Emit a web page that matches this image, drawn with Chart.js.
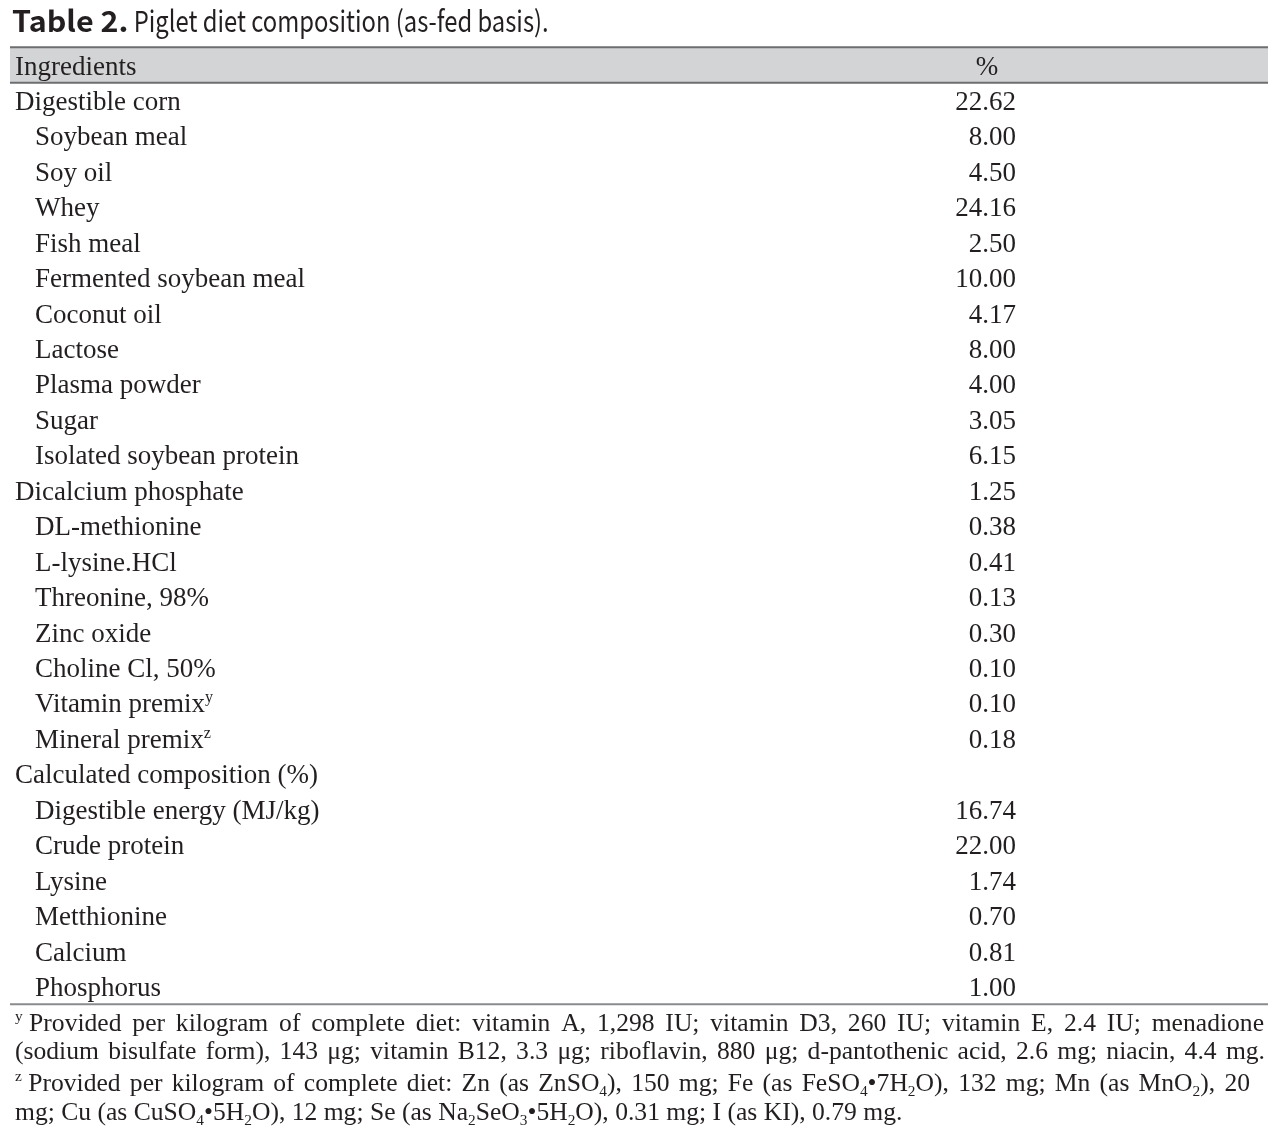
<!DOCTYPE html>
<html><head><meta charset="utf-8">
<script src="https://cdn.jsdelivr.net/npm/chart.js@4.4.1/dist/chart.umd.min.js"></script>
<style>html,body{margin:0;padding:0;background:#fff;overflow:hidden}#wrap{width:1288px;height:1134px;position:relative}</style>
</head><body><div id="wrap"><canvas id="c" width="1288" height="1134"></canvas></div>
<script>
// ---- data ----
const titleBold = "Table 2.";
const titleText = " Piglet diet composition (as-fed basis).";
const headerLabels = ["Ingredients", "%"];
const rowLabels = [
  "Digestible corn", "Soybean meal", "Soy oil", "Whey", "Fish meal",
  "Fermented soybean meal", "Coconut oil", "Lactose", "Plasma powder", "Sugar",
  "Isolated soybean protein", "Dicalcium phosphate", "DL-methionine", "L-lysine.HCl",
  "Threonine, 98%", "Zinc oxide", "Choline Cl, 50%", "Vitamin premix^y", "Mineral premix^z",
  "Calculated composition (%)", "Digestible energy (MJ/kg)", "Crude protein", "Lysine",
  "Metthionine", "Calcium", "Phosphorus"
];
const rowValues = [
  22.62, 8.00, 4.50, 24.16, 2.50, 10.00, 4.17, 8.00, 4.00, 3.05, 6.15, 1.25, 0.38, 0.41,
  0.13, 0.30, 0.10, 0.10, 0.18, null, 16.74, 22.00, 1.74, 0.70, 0.81, 1.00
];
const topLevelRows = ["Digestible corn", "Dicalcium phosphate", "Calculated composition (%)"];
const footnoteLines = [
  "^y\u00a0Provided per kilogram of complete diet: vitamin A, 1,298 IU; vitamin D3, 260 IU; vitamin E, 2.4 IU; menadione",
  "(sodium bisulfate form), 143 \u03bcg; vitamin B12, 3.3 \u03bcg; riboflavin, 880 \u03bcg; d-pantothenic acid, 2.6 mg; niacin, 4.4 mg.",
  "^z\u00a0Provided per kilogram of complete diet: Zn (as ZnSO_4), 150 mg; Fe (as FeSO_4\u20227H_2O), 132 mg; Mn (as MnO_2), 20",
  "mg; Cu (as CuSO_4\u20225H_2O), 12 mg; Se (as Na_2SeO_3\u20225H_2O), 0.31 mg; I (as KI), 0.79 mg."
];

// ---- rendering ----
const TXT = '#231f20';
const SERIF = "'Liberation Serif', 'Times New Roman', serif";
const SANS = "'Noto Sans CJK KR', 'Noto Sans', sans-serif";

function parseRuns(s){
  const runs=[]; const re=/\^(\w)|_(\d)/g; let last=0, m;
  while((m=re.exec(s))){
    if(m.index>last) runs.push({t:s.slice(last,m.index),k:0});
    runs.push({t:m[1]||m[2],k:m[1]?1:-1});
    last=re.lastIndex;
  }
  if(last<s.length) runs.push({t:s.slice(last),k:0});
  return runs;
}
function runFont(k,size){ return (k?size*0.6:size)+'px '+SERIF; }
function measureRuns(ctx,runs,size){
  let w=0; for(const r of runs){ ctx.font=runFont(r.k,size); w+=ctx.measureText(r.t).width; } return w;
}
function drawRuns(ctx,runs,x,base,size){
  for(const r of runs){
    ctx.font=runFont(r.k,size);
    const dy = r.k===1 ? -size*0.38 : (r.k===-1 ? size*0.18 : 0);
    ctx.fillText(r.t,x,base+dy);
    x+=ctx.measureText(r.t).width;
  }
  return x;
}
function drawJustified(ctx,line,x,base,size,target){
  const words=line.split(' ').map(parseRuns);
  const ws=words.map(w=>measureRuns(ctx,w,size));
  const total=ws.reduce((a,b)=>a+b,0);
  ctx.font=runFont(0,size);
  const gap = target ? (target-x-total)/(words.length-1) : ctx.measureText(' ').width;
  let cx=x;
  words.forEach((w,i)=>{ drawRuns(ctx,w,cx,base,size); cx+=ws[i]+gap; });
}
function drawScaledText(ctx,text,x,base,sx){
  ctx.save(); ctx.translate(x,base); ctx.scale(sx,1); ctx.fillText(text,0,0); ctx.restore();
  return ctx.measureText(text).width*sx;
}

const tablePlugin = {
  id:'tablePlugin',
  afterDraw(chart){
    const ctx=chart.ctx, y=chart.scales.y, a=chart.chartArea;
    ctx.save();
    const b0=y.getPixelForValue(-0.5), b1=y.getPixelForValue(0.5);
    ctx.fillStyle='#d3d4d6';
    ctx.fillRect(a.left,b0,a.right-a.left,b1-b0);
    ctx.lineWidth=2;
    ctx.strokeStyle='#6d6e70';
    ctx.beginPath(); ctx.moveTo(a.left,b0); ctx.lineTo(a.right,b0); ctx.stroke();
    ctx.beginPath(); ctx.moveTo(a.left,b1); ctx.lineTo(a.right,b1); ctx.stroke();
    ctx.strokeStyle='#8a8b8d';
    ctx.beginPath(); ctx.moveTo(a.left,a.bottom); ctx.lineTo(a.right,a.bottom); ctx.stroke();

    ctx.fillStyle=TXT; ctx.textBaseline='alphabetic';
    const size=27, off=9.5;
    // title
    ctx.textAlign='left';
    ctx.font='bold 29px '+SANS;
    const tw=drawScaledText(ctx,titleBold,12,32,1.05);
    ctx.font='29px '+SANS;
    drawScaledText(ctx,titleText,12+tw,32,0.82);
    // header
    const hy=y.getPixelForValue(0)+off;
    ctx.font=size+'px '+SERIF;
    ctx.fillText(headerLabels[0],15,hy);
    ctx.textAlign='center';
    ctx.fillText(headerLabels[1],987,hy);
    // rows
    rowLabels.forEach((lab,i)=>{
      const yc=y.getPixelForValue(i+1)+off;
      const plain=lab.replace(/\^\w/g,'');
      const x = topLevelRows.includes(plain) ? 15 : 35;
      ctx.textAlign='left';
      drawRuns(ctx,parseRuns(lab),x,yc,size);
      const v=rowValues[i];
      if(v!==null && v!==undefined){
        ctx.font=size+'px '+SERIF; ctx.textAlign='right';
        ctx.fillText(v.toFixed(2),1016,yc);
      }
    });
    // footnotes
    ctx.textAlign='left';
    const fs=25.6;
    const bases=[1031,1059,1091,1120];
    const targets=[1264,1265,1250,null];
    footnoteLines.forEach((ln,i)=>drawJustified(ctx,ln,15,bases[i],fs,targets[i]));
    ctx.restore();
  }
};

new Chart(document.getElementById('c'),{
  type:'bar',
  data:{
    labels:[headerLabels[0],...rowLabels],
    datasets:[{data:[null,...rowValues],backgroundColor:'rgba(0,0,0,0)',borderWidth:0}]
  },
  options:{
    indexAxis:'y', responsive:false, animation:false, devicePixelRatio:1,
    layout:{padding:{top:47.3,bottom:129.8,left:10,right:20}},
    plugins:{legend:{display:false},tooltip:{enabled:false},title:{display:false}},
    scales:{
      x:{display:false,min:0,max:30},
      y:{display:false,offset:true,grid:{display:false}}
    }
  },
  plugins:[tablePlugin]
});
</script></body></html>
